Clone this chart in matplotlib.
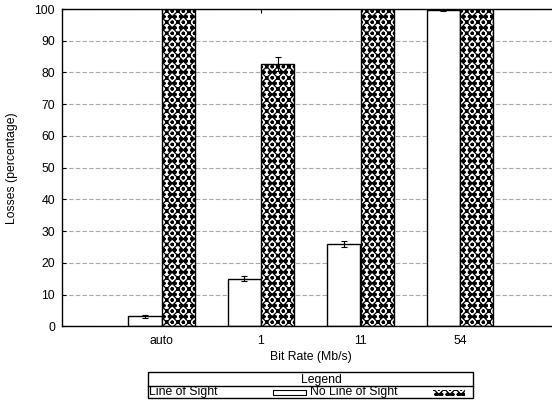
import matplotlib
matplotlib.use("Agg")
import matplotlib.pyplot as plt
from matplotlib.patches import Rectangle
from matplotlib.lines import Line2D
import numpy as np

# Daten
rates = ["auto", "1", "11", "54"]
los = [3.2, 15.0, 26.0, 99.7]
los_err = [0.5, 0.8, 1.0, 0.2]
nlos = [100.0, 82.6, 100.0, 100.0]
nlos_err = [0.0, 2.2, 0.0, 0.0]

plt.rcParams['font.family'] = ['Liberation Sans', 'DejaVu Sans']
plt.rcParams['font.size'] = 8.8
plt.rcParams['hatch.linewidth'] = 0.9

W, H = 552, 404
fig = plt.figure(figsize=(W / 100, H / 100), dpi=100)
ax = fig.add_axes([62 / W, 1 - 326.3 / H, (559.5 - 62) / W, (326.3 - 9) / H])

x = np.arange(len(rates))
bw = 0.333
hatch = 'xxxooo'

ax.bar(x - bw / 2, los, bw, color='white', edgecolor='black', linewidth=1.0,
       yerr=los_err, error_kw=dict(ecolor='black', elinewidth=0.8, capsize=2, capthick=0.8), zorder=2)
ax.bar(x + bw / 2, nlos, bw, color='white', edgecolor='black', linewidth=1.0, hatch=hatch,
       yerr=nlos_err, error_kw=dict(ecolor='black', elinewidth=0.8, capsize=2, capthick=0.8), zorder=2)

ax.set_xlim(-1, 4)
ax.set_ylim(0, 100)
ax.set_xticks(x)
ax.set_xticklabels(rates)
ax.set_yticks(np.arange(0, 101, 10))
ax.tick_params(axis='both', direction='in', length=3, width=0.8, top=True, bottom=False, pad=5, colors='black')
ax.tick_params(axis='x', pad=6)
ax.yaxis.grid(True, color='#a8a8a8', linestyle=(0, (4, 2)), linewidth=0.8)
ax.set_axisbelow(True)
for s in ['left', 'bottom', 'top']:
    ax.spines[s].set_linewidth(1.0)
ax.spines['right'].set_visible(False)

ax.set_xlabel('Bit Rate (Mb/s)', labelpad=3)
fig.text(12.5 / W, 1 - 168 / H, 'Losses (percentage)', rotation=90, ha='center', va='center')

# Legende (gnuplot-Stil)
def fx(px):
    return px / W

def fy(py):
    return 1 - py / H

fig.add_artist(Rectangle((fx(148), fy(398)), fx(473) - fx(148), fy(372) - fy(398),
                         transform=fig.transFigure, facecolor='white', edgecolor='black', linewidth=1.0))
fig.add_artist(Line2D([fx(148), fx(473)], [fy(386), fy(386)], transform=fig.transFigure,
                      color='black', linewidth=1.0))
fig.text(fx(321), fy(380), 'Legend', ha='center', va='center')
fig.text(fx(149), fy(392.5), 'Line of Sight', ha='left', va='center')
fig.add_artist(Rectangle((fx(273), fy(395)), fx(306) - fx(273), fy(390) - fy(395),
                         transform=fig.transFigure, facecolor='white', edgecolor='black', linewidth=0.8))
fig.text(fx(310), fy(392.5), 'No Line of Sight', ha='left', va='center')
fig.add_artist(Rectangle((fx(433), fy(395.5)), fx(465) - fx(433), fy(389.5) - fy(395.5),
                         transform=fig.transFigure, facecolor='white', edgecolor='black', linewidth=0,
                         hatch=hatch))

fig.savefig('out.png', dpi=100)
